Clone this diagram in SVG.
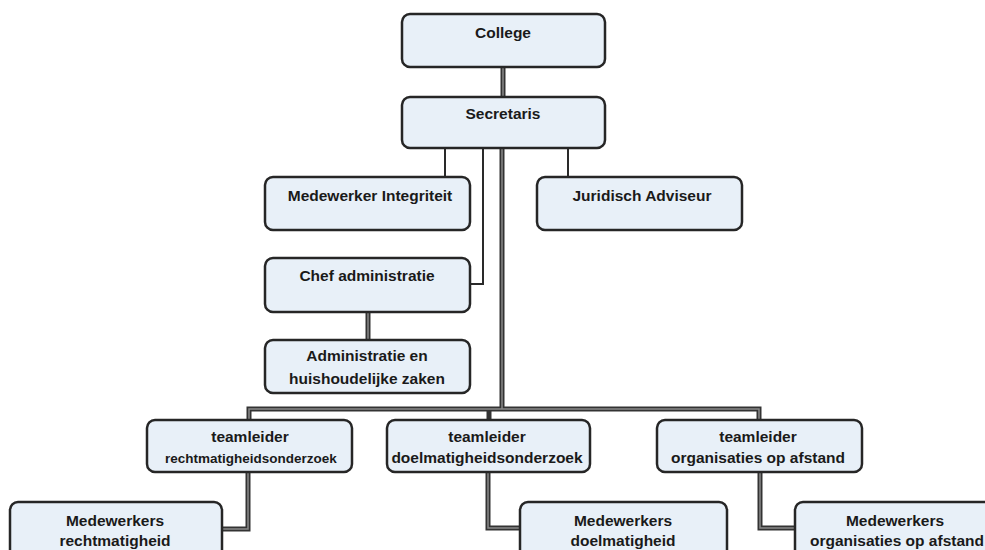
<svg xmlns="http://www.w3.org/2000/svg" width="985" height="550" viewBox="0 0 985 550">
<style>
.box{fill:#e8f0f8;stroke:#262626;stroke-width:2.5}
.t{font-family:"Liberation Sans",Arial,sans-serif;font-weight:bold;font-size:15.5px;fill:#1a1a1a;text-anchor:middle}
.s{font-size:13.5px}
.thick{fill:none;stroke:#333;stroke-width:5}
.thin{fill:none;stroke:#2a2a2a;stroke-width:2}
.inner{fill:none;stroke:#8a8a8a;stroke-width:1.5}
</style>
<rect width="985" height="550" fill="#ffffff"/>
<g id="connectors">
<path class="thick" d="M503,67 V97"/>
<path class="thin" d="M445,148 V177"/>
<path class="thin" d="M568,148 V177"/>
<path class="thin" d="M483,148 V284 H470"/>
<path class="thick" d="M502,148 V409"/>
<path class="thick" d="M368,312 V340"/>
<path class="thick" d="M249,420 V409 H759 V420"/>
<path class="thick" d="M489,409 V420"/>
<path class="thick" d="M248,472 V529 H222"/>
<path class="thick" d="M488,472 V528 H520"/>
<path class="thick" d="M760,472 V528 H795"/>
<path class="inner" d="M503,67 V97"/>
<path class="inner" d="M502,148 V409"/>
<path class="inner" d="M368,312 V340"/>
<path class="inner" d="M249,420 V409 H759 V420"/>
<path class="inner" d="M248,472 V529 H222"/>
<path class="inner" d="M488,472 V528 H520"/>
<path class="inner" d="M760,472 V528 H795"/>
</g>
<g id="college">
<rect class="box" x="402" y="14" width="203" height="53" rx="8"/>
<text class="t" x="503" y="38">College</text>
</g>
<g id="secretaris">
<rect class="box" x="402" y="97" width="203" height="51" rx="8"/>
<text class="t" x="503" y="119">Secretaris</text>
</g>
<g id="integriteit">
<rect class="box" x="265" y="177" width="205" height="53" rx="8"/>
<text class="t" x="370" y="201">Medewerker Integriteit</text>
</g>
<g id="juridisch">
<rect class="box" x="537" y="177" width="205" height="53" rx="8"/>
<text class="t" x="642" y="201">Juridisch Adviseur</text>
</g>
<g id="chef">
<rect class="box" x="265" y="258" width="205" height="54" rx="8"/>
<text class="t" x="367" y="281">Chef administratie</text>
</g>
<g id="administratie">
<rect class="box" x="265" y="340" width="205" height="53" rx="8"/>
<text class="t" x="367" y="361">Administratie en</text>
<text class="t" x="367" y="384">huishoudelijke zaken</text>
</g>
<g id="tl-recht">
<rect class="box" x="147" y="420" width="205" height="52" rx="8"/>
<text class="t" x="250" y="442">teamleider</text>
<text class="t s" x="251" y="463">rechtmatigheidsonderzoek</text>
</g>
<g id="tl-doel">
<rect class="box" x="387" y="420" width="203" height="52" rx="8"/>
<text class="t" x="487" y="442">teamleider</text>
<text class="t" x="487" y="463">doelmatigheidsonderzoek</text>
</g>
<g id="tl-afstand">
<rect class="box" x="657" y="420" width="205" height="52" rx="8"/>
<text class="t" x="758" y="442">teamleider</text>
<text class="t" x="758" y="463">organisaties op afstand</text>
</g>
<g id="mw-recht">
<rect class="box" x="10" y="502" width="212" height="60" rx="8"/>
<text class="t" x="115" y="526">Medewerkers</text>
<text class="t" x="115" y="546">rechtmatigheid</text>
</g>
<g id="mw-doel">
<rect class="box" x="520" y="502" width="207" height="60" rx="8"/>
<text class="t" x="623" y="526">Medewerkers</text>
<text class="t" x="623" y="546">doelmatigheid</text>
</g>
<g id="mw-afstand">
<rect class="box" x="795" y="502" width="205" height="60" rx="8"/>
<text class="t" x="895" y="526">Medewerkers</text>
<text class="t" x="897" y="546">organisaties op afstand</text>
</g>
</svg>
